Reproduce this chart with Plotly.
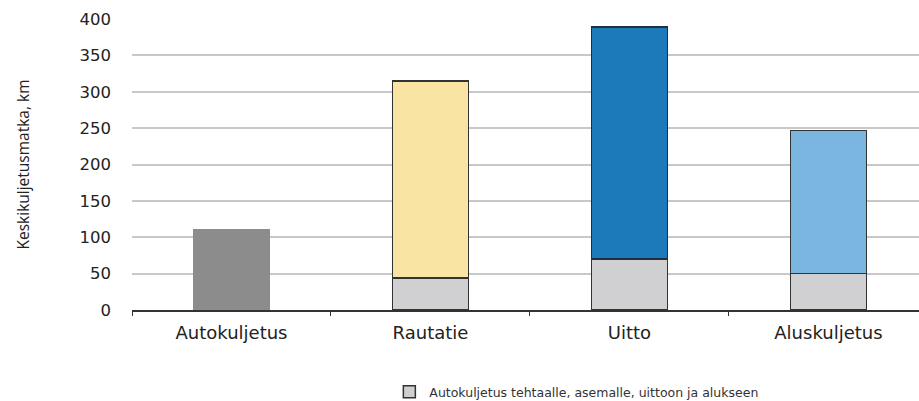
import plotly.graph_objects as go

# Average haul distance by transport mode (km)
categories = ["Autokuljetus", "Rautatie", "Uitto", "Aluskuljetus"]
total_km = [111, 315, 389, 247]
feeder_km = [0, 44, 70, 50]
main_colors = ["#8c8c8c", "#f9e4a3", "#1c7abb", "#7ab6df"]
feeder_name = "Autokuljetus tehtaalle, asemalle, uittoon ja alukseen"
y_title = "Keskikuljetusmatka, km"

main_km = [t - f for t, f in zip(total_km, feeder_km)]
feeder_vals = [f if f > 0 else None for f in feeder_km]

fig = go.Figure()
fig.add_trace(go.Bar(
    x=categories, y=feeder_vals, name=feeder_name,
    marker=dict(color="#d0d0d2", line=dict(color="#333333", width=1.5)),
    width=0.38, showlegend=True,
))
fig.add_trace(go.Bar(
    x=categories, y=main_km, name="",
    marker=dict(color=main_colors,
                line=dict(color=["#8c8c8c", "#333333", "#1f2f3f", "#333333"], width=1.5)),
    width=0.38, showlegend=False,
))

wide_font = "DejaVu Sans, sans-serif"
fig.update_layout(
    width=919, height=401,
    margin=dict(l=132, r=0, t=19, b=91),
    barmode="stack",
    plot_bgcolor="white", paper_bgcolor="white",
    font=dict(family=wide_font, color="#222222"),
    legend=dict(orientation="h", x=0.327, xanchor="left",
                yref="container", y=0.022, yanchor="middle",
                font=dict(size=12.5, color="#333333"), itemwidth=30),
)
fig.update_xaxes(
    range=[-0.5, 3.455],
    showline=True, linecolor="#333333", linewidth=1.5,
    ticks="outside", tickson="boundaries", ticklen=4, tickcolor="#333333",
    tickfont=dict(size=18, color="#222222"),
    ticklabelstandoff=6,
    showgrid=False,
)
fig.update_yaxes(
    range=[0, 400], dtick=50,
    showline=False, zeroline=False,
    gridcolor="#c8c8c8", gridwidth=1.5,
    tickfont=dict(size=16.5, color="#222222"),
    ticklabelstandoff=20,
    title=dict(text=y_title, font=dict(family="Open Sans, sans-serif", size=15.5, color="#222222"),
               standoff=46),
)

fig.write_html("out.html")
